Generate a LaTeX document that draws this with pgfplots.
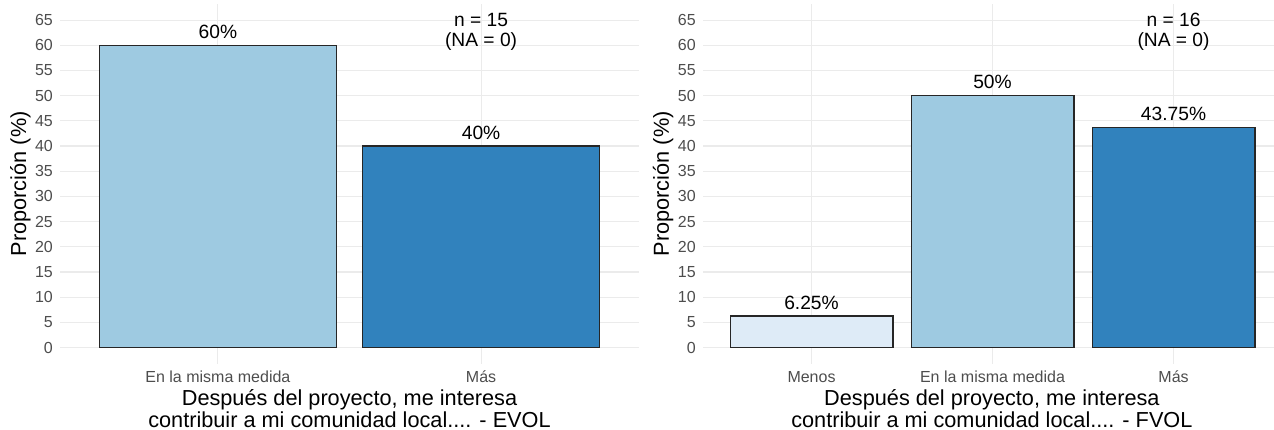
\documentclass[border=0pt]{standalone}
\usepackage{fontspec}
\setmainfont{Liberation Sans}
\usepackage{pgfplots}
\pgfplotsset{compat=1.18}
\definecolor{cA}{HTML}{DEEBF7}
\definecolor{cB}{HTML}{9ECAE1}
\definecolor{cC}{HTML}{3182BD}
\definecolor{gridc}{HTML}{EBEBEB}
\definecolor{tickc}{HTML}{4D4D4D}
\pgfplotsset{
  mystyle/.style={
    scale only axis, height=360.2pt,
    ymin=-3.25, ymax=68.25, ytick={0,5,...,65},
    ybar, bar width=0.9, bar shift=0pt,
    axis line style={draw=none},
    major tick length=0pt,
    xmajorgrids, ymajorgrids,
    major grid style={gridc, line width=1.1pt},
    /pgf/number format/assume math mode=true,
    tick label style={font=\fontsize{16}{19}\selectfont, text=tickc, inner sep=0pt},
    yticklabel style={anchor=east, xshift=-7pt},
    xticklabel style={anchor=base, yshift=-19.1pt},
    xlabel style={at={(axis description cs:0.5,0)}, anchor=north, align=center,
      font=\fontsize{21.7}{22}\selectfont, inner sep=0pt, yshift=-25pt, text=black},
    ylabel style={anchor=base, font=\fontsize{21.7}{24}\selectfont, inner sep=0pt, text=black},
    ylabel={Proporción (\%)},
    nodes near coords, point meta=explicit symbolic,
    every node near coord/.append style={font=\fontsize{19.2}{22}\selectfont, text=black,
      anchor=base, inner sep=0pt, yshift=6.7pt},
    bstyle/.style={draw=black!85, line width=1.1pt},
  }
}
\begin{document}
\begin{tikzpicture}
\useasboundingbox (0,0) rectangle (1274pt,430pt);
% Left panel
\begin{axis}[mystyle, at={(60pt,66.1pt)}, anchor=south west, width=579pt,
  xmin=0.4, xmax=2.6, xtick={1,2},
  xticklabels={En la misma medida, Más},
  ylabel style={at={(axis description cs:-0.0587,0.5)}},
  xlabel={Después del proyecto, me interesa\\contribuir a mi comunidad local.... - EVOL}]
\addplot[bstyle, fill=cB] coordinates {(1,60) [60\%]};
\addplot[bstyle, fill=cC] coordinates {(2,40) [40\%]};
\node[font=\fontsize{19.2}{22}\selectfont, anchor=base, inner sep=0pt] at (axis cs:2,63.7) {n = 15};
\node[font=\fontsize{19.2}{22}\selectfont, anchor=base, inner sep=0pt] at (axis cs:2,59.7) {(NA = 0)};
\end{axis}
% Right panel
\begin{axis}[mystyle, at={(702.9pt,66.1pt)}, anchor=south west, width=571.1pt,
  xmin=0.4, xmax=3.555, xtick={1,2,3},
  xticklabels={Menos, En la misma medida, Más},
  ylabel style={at={(axis description cs:-0.0595,0.5)}},
  xlabel style={at={(axis description cs:0.506,0)}},
  xlabel={Después del proyecto, me interesa\\contribuir a mi comunidad local.... - FVOL}]
\addplot[bstyle, fill=cA] coordinates {(1,6.25) [6.25\%]};
\addplot[bstyle, fill=cB] coordinates {(2,50) [50\%]};
\addplot[bstyle, fill=cC] coordinates {(3,43.75) [43.75\%]};
\node[font=\fontsize{19.2}{22}\selectfont, anchor=base, inner sep=0pt] at (axis cs:3,63.7) {n = 16};
\node[font=\fontsize{19.2}{22}\selectfont, anchor=base, inner sep=0pt] at (axis cs:3,59.7) {(NA = 0)};
\end{axis}
\end{tikzpicture}
\end{document}
